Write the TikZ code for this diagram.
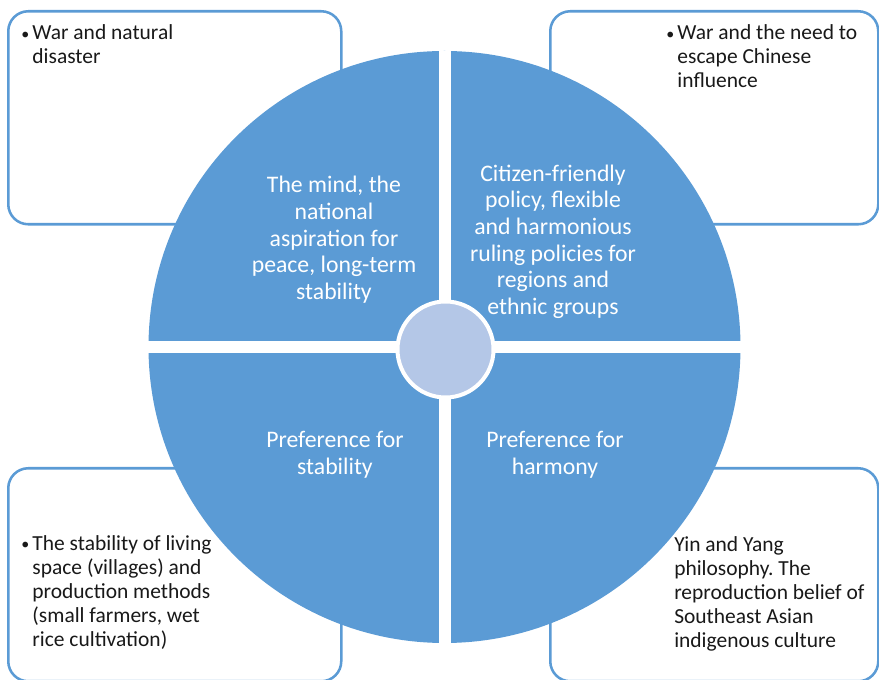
\documentclass[tikz,border=0pt]{standalone}
\usepackage{fontspec}
\setmainfont{Carlito}
\frenchspacing
\definecolor{wheelblue}{HTML}{5B9BD5}
\definecolor{hubblue}{HTML}{B4C7E7}
\newcommand{\bul}{\makebox[8.4pt][l]{\raisebox{0.6pt}{\fontsize{12}{12}\selectfont\textbullet}}}

\begin{document}
\begin{tikzpicture}[
		x=0.75pt, y=-0.75pt,
		box/.style = {draw=wheelblue, line width=1.9pt, fill=white, rounded corners=15pt,
			inner sep=0pt, minimum width=249.75pt, minimum height=159.75pt, anchor=north west},
		quarter/.style = {text=white, align=center, inner sep=0pt, font=\fontsize{17.8}{20}\selectfont},
		note/.style = {anchor=base west, inner sep=0pt, text=black!90, font=\fontsize{16.1}{18}\selectfont}
	]
	\useasboundingbox (0,0) rectangle (879,680);
	% Corner boxes.
	\node[box] (tl) at (7,10) {};
	\node[box, minimum width=246pt] (tr) at (549,10) {};
	\node[box] (bl) at (7,467) {};
	\node[box, minimum width=246pt] (br) at (549,467) {};
	% The wheel and its hub.
	\node[circle, fill=wheelblue, inner sep=0pt, minimum size=444pt] (wheel) at (444.5,347) {};
	\draw[white, line width=9pt] (wheel.north) -- (wheel.south);
	\draw[white, line width=9pt] (wheel.west) -- (wheel.east);
	\node[circle, draw=white, line width=3pt, fill=hubblue, inner sep=0pt, minimum size=72pt] (hub) at (445.5,349.5) {};
	% Quarters.
	\node[quarter] (mind) at (334,240) {The mind, the\\national\\aspiration for\\peace, long-term\\stability};
	\node[quarter] (policy) at (553,241.5) {Citizen-friendly\\policy, flexible\\and harmonious\\ruling policies for\\regions and\\ethnic groups};
	\node[quarter] (stab) at (335,454.5) {Preference for\\stability};
	\node[quarter] (harm) at (555,454.5) {Preference for\\harmony};
	% Notes in the boxes.
	\node[note] (war) at (21,40) {\bul\begin{tabular}[t]{@{}l@{}}War and natural\\disaster\end{tabular}};
	\node[note] (escape) at (666,40) {\bul\begin{tabular}[t]{@{}l@{}}War and the need to\\escape Chinese\\influence\end{tabular}};
	\node[note] (living) at (21,550.5) {\bul\begin{tabular}[t]{@{}l@{}}The stability of living\\space (villages) and\\production methods\\(small farmers, wet\\rice cultivation)\end{tabular}};
	\node[note] (yinyang) at (674,551.5) {\begin{tabular}[t]{@{}l@{}}Yin and Yang\\philosophy. The\\reproduction belief of\\Southeast Asian\\indigenous culture\end{tabular}};
\end{tikzpicture}
\end{document}
